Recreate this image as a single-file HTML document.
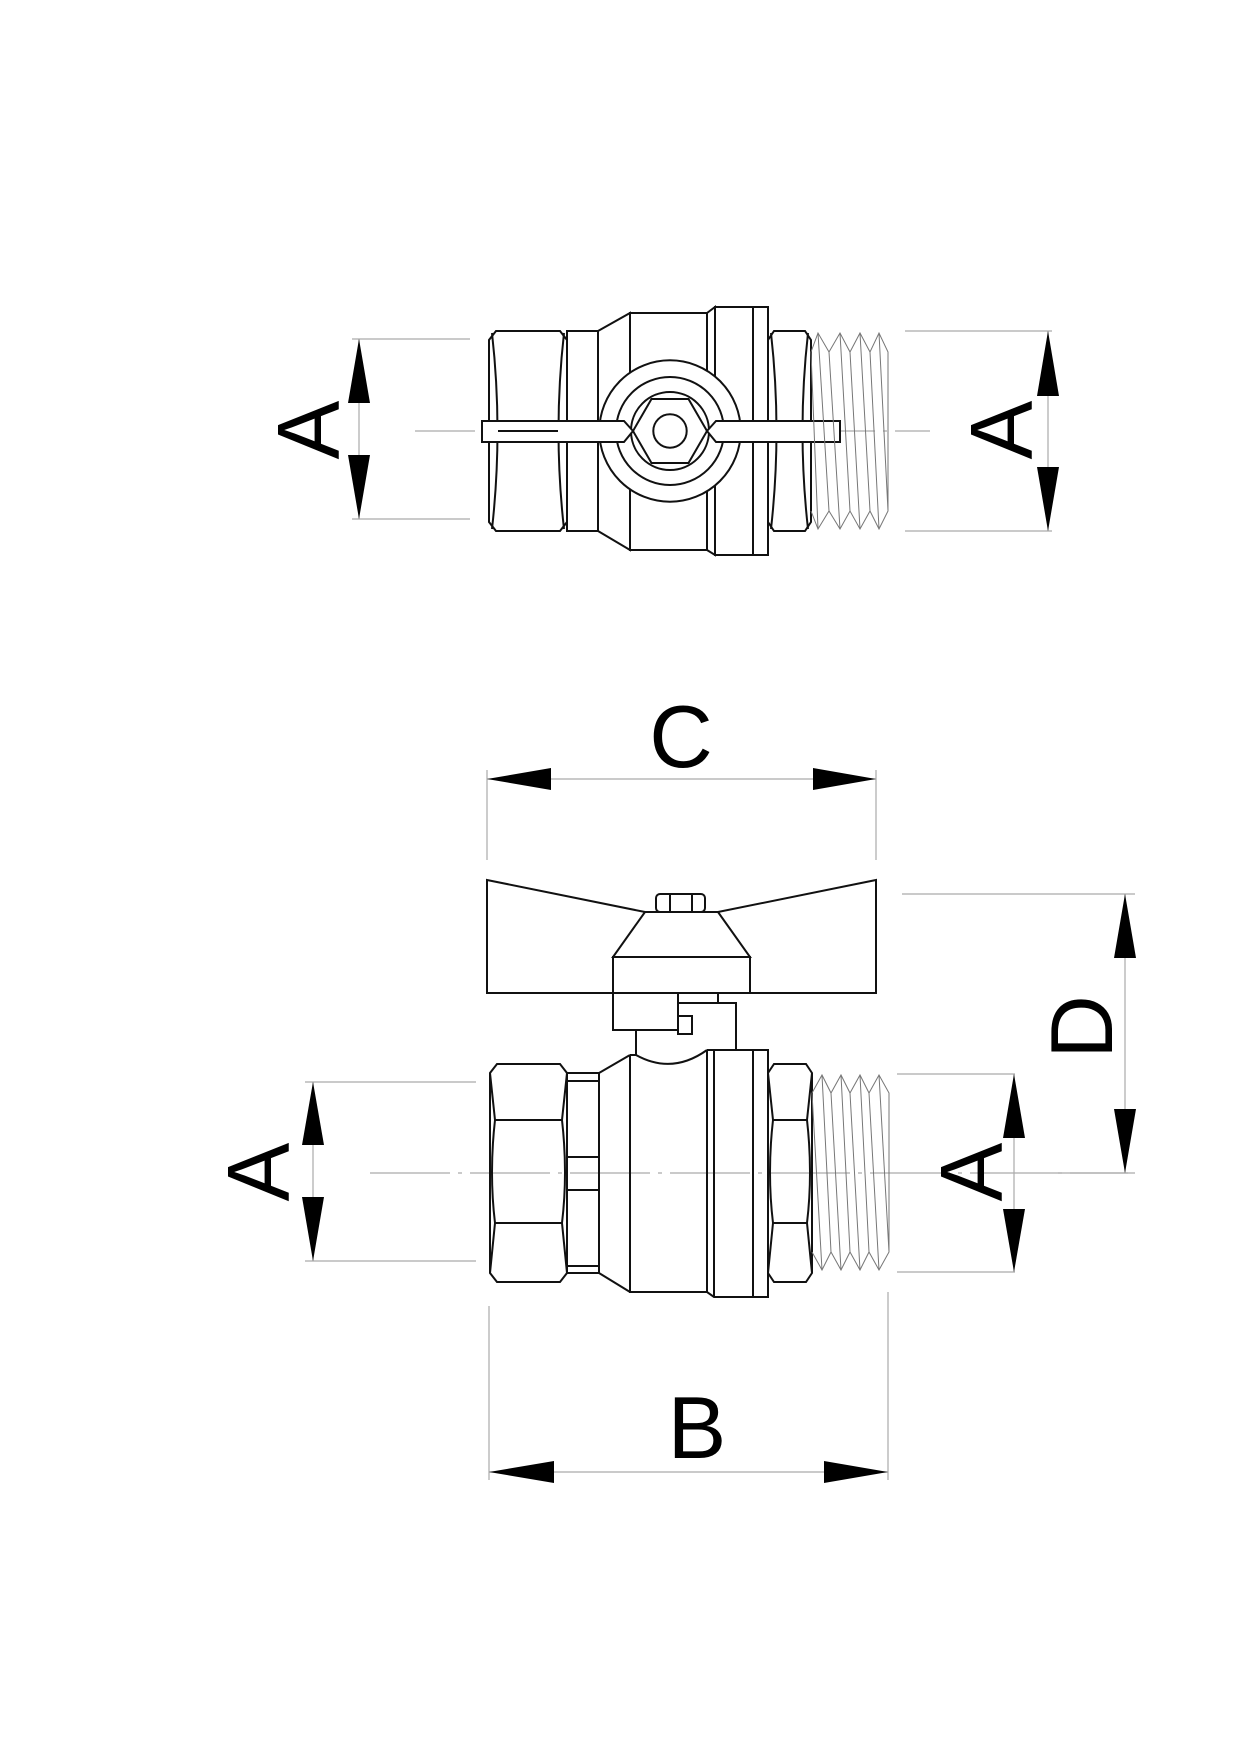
<!DOCTYPE html>
<html><head><meta charset="utf-8"><style>
html,body{margin:0;padding:0;background:#fff}
svg{display:block}
text{font-family:"Liberation Sans",sans-serif;fill:#000}
</style></head><body>
<svg width="1240" height="1754" viewBox="0 0 1240 1754" xmlns="http://www.w3.org/2000/svg">
<rect width="1240" height="1754" fill="#fff"/>
<g fill="none" stroke="#aaa" stroke-width="1.2">
  <!-- top view dims -->
  <line x1="352" y1="339" x2="470" y2="339"/><line x1="352" y1="519" x2="470" y2="519"/>
  <line x1="359" y1="339" x2="359" y2="519"/>
  <line x1="905" y1="331" x2="1052" y2="331"/><line x1="905" y1="531" x2="1052" y2="531"/>
  <line x1="1048" y1="331" x2="1048" y2="531"/>
  <line x1="415" y1="431" x2="930" y2="431" stroke-dasharray="60 8 4 8"/>
  <!-- bottom view dims -->
  <line x1="487" y1="770" x2="487" y2="860"/><line x1="876" y1="770" x2="876" y2="860"/>
  <line x1="487" y1="779" x2="876" y2="779"/>
  <line x1="902" y1="894" x2="1135" y2="894"/><line x1="1050" y1="1173" x2="1135" y2="1173"/>
  <line x1="1125" y1="894" x2="1125" y2="1173"/>
  <line x1="305" y1="1082" x2="476" y2="1082"/><line x1="305" y1="1261" x2="476" y2="1261"/>
  <line x1="313" y1="1082" x2="313" y2="1261"/>
  <line x1="897" y1="1074" x2="1015" y2="1074"/><line x1="897" y1="1272" x2="1015" y2="1272"/>
  <line x1="1014" y1="1074" x2="1014" y2="1272"/>
  <line x1="489" y1="1306" x2="489" y2="1480"/><line x1="888" y1="1292" x2="888" y2="1480"/>
  <line x1="489" y1="1472" x2="888" y2="1472"/>
  <line x1="370" y1="1173" x2="1128" y2="1173" stroke-dasharray="80 8 4 8"/>
</g>
<!-- arrowheads -->
<g fill="#000">
  <polygon points="359,339 348,403 370,403"/><polygon points="359,519 348,455 370,455"/>
  <polygon points="1048,331 1037,396 1059,396"/><polygon points="1048,531 1037,467 1059,467"/>
  <polygon points="487,779 551,768 551,790"/><polygon points="876,779 813,768 813,790"/>
  <polygon points="1125,894 1114,958 1136,958"/><polygon points="1125,1173 1114,1109 1136,1109"/>
  <polygon points="313,1082 302,1145 324,1145"/><polygon points="313,1261 302,1197 324,1197"/>
  <polygon points="1014,1074 1003,1138 1025,1138"/><polygon points="1014,1272 1003,1209 1025,1209"/>
  <polygon points="489,1472 554,1461 554,1483"/><polygon points="888,1472 824,1461 824,1483"/>
</g>
<!-- labels -->
<g font-size="88">
  <text transform="translate(307,430) rotate(-90)" x="0" y="32" text-anchor="middle">A</text>
  <text transform="translate(1000,430) rotate(-90)" x="0" y="32" text-anchor="middle">A</text>
  <text x="681" y="767" text-anchor="middle">C</text>
  <text transform="translate(1080,1027) rotate(-90)" x="0" y="32" text-anchor="middle">D</text>
  <text transform="translate(257,1172) rotate(-90)" x="0" y="32" text-anchor="middle">A</text>
  <text transform="translate(970,1172) rotate(-90)" x="0" y="32" text-anchor="middle">A</text>
  <text x="697" y="1458" text-anchor="middle">B</text>
</g>

<!-- TOP VIEW -->
<g fill="none" stroke="#111" stroke-width="2">
  <polygon points="496,331 560,331 567,340 567,522 560,531 496,531 489,522 489,340"/>
  <path d="M492,333 Q503,431 492,529 M564,333 Q553,431 564,529"/>
  <rect x="567" y="331" width="31" height="200"/>
  <polyline points="598,331 630,313 630,550 598,531"/>
  <rect x="630" y="313" width="77" height="237"/>
  <polyline points="707,313 715,307 715,555 707,550"/>
  <rect x="715" y="307" width="53" height="248"/>
  <line x1="753" y1="307" x2="753" y2="555"/>
  <polygon points="774,331 805,331 811,340 811,522 805,531 774,531 768,522 768,340"/>
  <path d="M771,333 Q782,431 771,529 M808,333 Q797,431 808,529"/>
  <circle cx="670" cy="431" r="70.7" fill="#fff"/>
  <circle cx="670" cy="431" r="54"/>
  <circle cx="670" cy="431" r="39"/>
  <polygon points="633,431 651.5,399 688.5,399 707,431 688.5,463 651.5,463"/>
  <circle cx="670" cy="431" r="16.7"/>
  <polygon points="482,421 624,421 633,431 624,442 482,442" fill="#fff"/>
  <polygon points="840,421 716,421 707,431 716,442 840,442" fill="#fff"/>
  <line x1="498" y1="431" x2="558" y2="431"/>
</g>
<g fill="none" stroke="#777" stroke-width="1">
  <polyline points="811,352 818,333 829,352 840,333 850,352 860,333 870,352 879,333 888,352 888,511 879,529 870,511 860,529 850,511 840,529 829,511 818,529 811,511"/>
  <path d="M818,333 L829,511 M829,352 L840,529 M840,333 L850,511 M850,352 L860,529 M860,333 L870,511 M870,352 L879,529 M879,333 L888,511 M811,352 L818,529"/>
</g>

<!-- BOTTOM VIEW -->
<g fill="none" stroke="#111" stroke-width="2">
  <path d="M487,880 L645,912 L718,912 L876,880 L876,993 L487,993 Z"/>
  <path d="M645,912 L613,957 L750,957 L718,912"/>
  <rect x="613" y="957" width="137" height="36"/>
  <rect x="656" y="894" width="49" height="18" rx="4"/>
  <line x1="670" y1="894" x2="670" y2="912"/><line x1="692" y1="894" x2="692" y2="912"/>
  <rect x="613" y="993" width="65" height="37"/>
  <path d="M678,993 L678,1003 L736,1003 L736,1050 M718,993 L718,1003"/>
  <rect x="678" y="1016" width="14" height="18"/>
  <line x1="636" y1="1030" x2="636" y2="1055"/>
  <!-- left hex -->
  <polygon points="497,1064 560,1064 567,1073 567,1273 560,1282 497,1282 490,1273 490,1073"/>
  <path d="M490,1073 L495,1120 Q489,1173 495,1223 L490,1273 M567,1073 L562,1120 Q568,1173 562,1223 L567,1273 M495,1120 L562,1120 M495,1223 L562,1223"/>
  <!-- neck -->
  <rect x="567" y="1073" width="32" height="200"/>
  <path d="M567,1081 L599,1081 M567,1157 L599,1157 M567,1190 L599,1190 M567,1266 L599,1266"/>
  <path d="M599,1073 L630,1055 M599,1273 L630,1292"/>
  <path d="M630,1055 L630,1292 L707,1292 L714,1297 L768,1297 L768,1050 L714,1050 L707,1050"/>
  <path d="M630,1055 L636,1055 Q672,1075 707,1050"/>
  <line x1="707" y1="1050" x2="707" y2="1292"/>
  <line x1="714" y1="1050" x2="714" y2="1297"/>
  <line x1="753" y1="1050" x2="753" y2="1297"/>
  <!-- right hex -->
  <polygon points="774,1064 806,1064 812,1073 812,1273 806,1282 774,1282 768,1273 768,1073"/>
  <path d="M768,1073 L773,1120 Q767,1173 773,1223 L768,1273 M812,1073 L807,1120 Q813,1173 807,1223 L812,1273 M773,1120 L807,1120 M773,1223 L807,1223"/>
</g>
<g fill="none" stroke="#777" stroke-width="1">
  <polyline points="812,1093 822,1075 831,1093 841,1075 850,1093 860,1075 869,1093 879,1075 889,1093 889,1252 879,1270 869,1252 860,1270 850,1252 841,1270 831,1252 822,1270 812,1252"/>
  <path d="M812,1093 L822,1270 M822,1075 L831,1252 M831,1093 L841,1270 M841,1075 L850,1252 M850,1093 L860,1270 M860,1075 L869,1252 M869,1093 L879,1270 M879,1075 L889,1252"/>
</g>
</svg>
</body></html>
